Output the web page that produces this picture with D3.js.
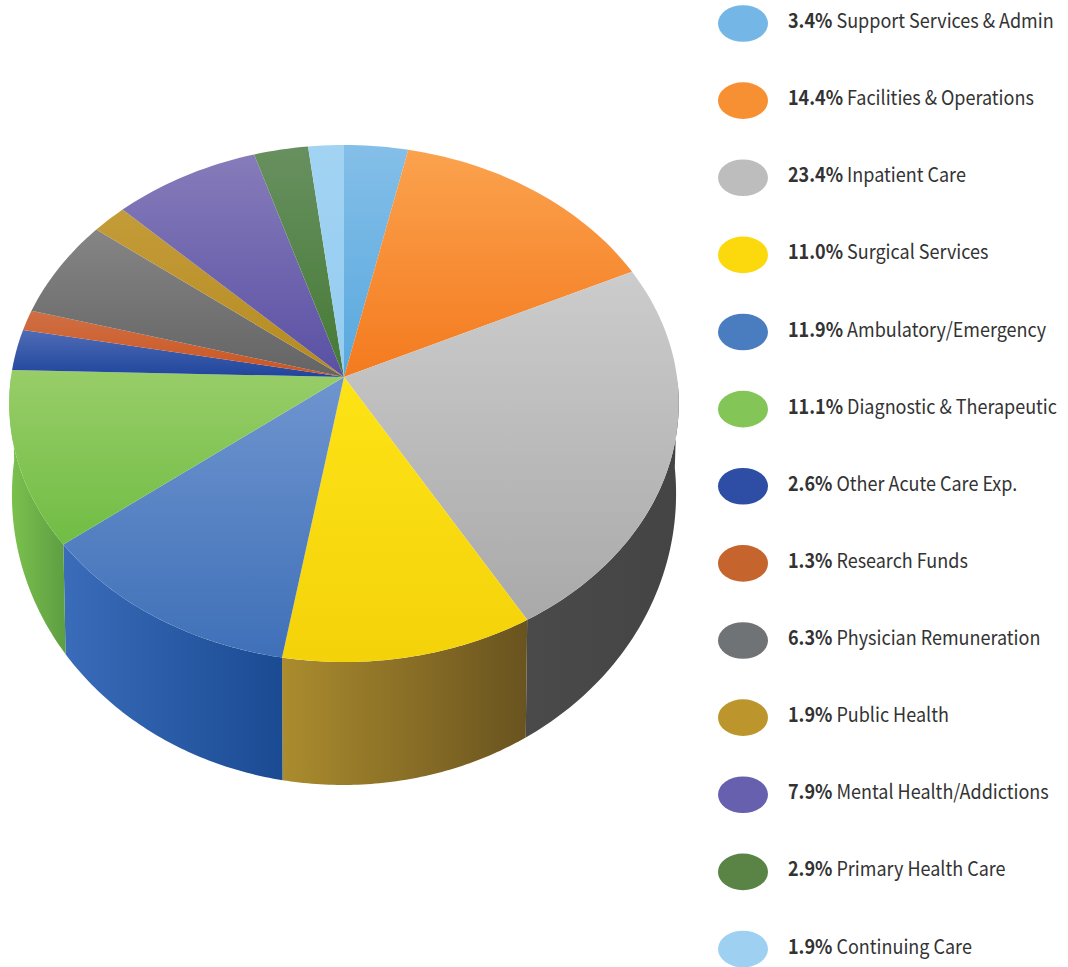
<!DOCTYPE html>
<html>
<head>
<meta charset="utf-8">
<script src="https://cdnjs.cloudflare.com/ajax/libs/d3/7.8.5/d3.min.js"></script>
<style>
html,body{margin:0;padding:0;background:#fff}
svg{display:block}
text{font-family:"Noto Sans CJK SC","Noto Sans",sans-serif;font-size:20px;fill:#333}
</style>
</head>
<body>
<svg id="chart" width="1068" height="967"></svg>
<script>
// Hospital budget shares, clockwise from twelve o'clock
const categories = ["Support Services & Admin","Facilities & Operations","Inpatient Care","Surgical Services","Ambulatory/Emergency","Diagnostic & Therapeutic","Other Acute Care Exp.","Research Funds","Physician Remuneration","Public Health","Mental Health/Addictions","Primary Health Care","Continuing Care"];
const shares = [3.4,14.4,23.4,11.0,11.9,11.1,2.6,1.3,6.3,1.9,7.9,2.9,1.9];
// Top-face gradient stops (far edge, near edge) per slice
const faceLight = ["#84bfe8","#fba24e","#cccccc","#fde316","#6f95cf","#98cd68","#4f6cb6","#cf7045","#858585","#c49c38","#867cba","#689060","#a2d3f3"];
const faceDark = ["#58a8de","#f47a1e","#a9a9a9","#f4d20a","#3f70b8","#70bd44","#1f459c","#cc5420","#646464","#b58a22","#5a50a4","#457a35","#94ccf0"];
// Side-wall gradient stops (left, right)
const wallLeft = ["#4a4a4a","#ab8c2e","#3a6cba","#7cc24e"];
const wallRight = ["#444444","#69531f","#1a4a92","#5d9e42"];
const wallSlices = [2,3,4,5];
const legendColors = ["#74b7e6","#f78f33","#bdbdbd","#fbd90c","#4a7cc0","#83c557","#2d4ea4","#c5652d","#707375","#bc962c","#6660ae","#5a8445","#9ed1f1"];

const svg = d3.select("#chart");
const defs = svg.append("defs");

// Perspective view of the pie disc: the hub sits above the centre of the ellipse
const hub = {x:344, y:377};
const radiusX = 333, radiusY = 255.8, tilt = 0.1025, lensDrift = 0.03;
function upperRim(a){
  const t = a + lensDrift*Math.sin(a/2)**2;
  const u = Math.sin(t), v = -Math.cos(t), w = 1 - tilt*v;
  return [hub.x + radiusX*u/w, hub.y + radiusY*v/w];
}
function lowerRim(a){
  const [x,y] = upperRim(a), v = -Math.cos(a);
  return [hub.x + (x-hub.x)*0.992, y + 87 + 36*v];
}
const line = d3.line();
const arcs = d3.pie().sort(null).value(d=>d)(shares);
const samples = (a0,a1,n) => d3.range(n+1).map(i => a0 + (a1-a0)*i/n);

// Side walls sit beneath the top faces
wallSlices.forEach((s,i) => {
  const a = arcs[s];
  const a0 = Math.max(a.startAngle, Math.PI/2), a1 = Math.min(a.endAngle, 3*Math.PI/2);
  const id = "wall"+s;
  const g = defs.append("linearGradient").attr("id",id);
  g.append("stop").attr("offset",0).attr("stop-color",wallLeft[i]);
  g.append("stop").attr("offset",1).attr("stop-color",wallRight[i]);
  const pts = samples(a0,a1,60);
  svg.append("path")
    .attr("d", line(pts.map(upperRim).concat(pts.slice().reverse().map(lowerRim))) + "Z")
    .attr("fill",`url(#${id})`);
});

// Top faces
arcs.forEach((a,i) => {
  const id = "face"+i;
  const g = defs.append("linearGradient").attr("id",id).attr("x1",0).attr("y1",0).attr("x2",0).attr("y2",1);
  g.append("stop").attr("offset",0).attr("stop-color",faceLight[i]);
  g.append("stop").attr("offset",1).attr("stop-color",faceDark[i]);
  const n = Math.max(4, Math.ceil((a.endAngle-a.startAngle)*40));
  const rim = samples(a.startAngle,a.endAngle,n).map(upperRim);
  svg.append("path")
    .attr("d", line([[hub.x,hub.y]].concat(rim)) + "Z")
    .attr("fill",`url(#${id})`);
});

// Legend column, with the type narrowed horizontally
const rowY = d3.scalePoint().domain(categories).range([23.5,949]);
const rows = svg.append("g").selectAll("g").data(categories).join("g")
  .attr("transform", d => `translate(0,${rowY(d)})`);
rows.append("ellipse").attr("cx",743).attr("cy",0).attr("rx",25).attr("ry",18.3)
  .attr("fill",(d,i)=>legendColors[i]);
const label = rows.append("text").attr("transform","translate(788,4.5) scale(0.9,1)");
label.append("tspan").attr("font-weight",700).text((d,i)=>shares[i].toFixed(1)+"%");
label.append("tspan").text(d=>" "+d);
</script>
</body>
</html>
